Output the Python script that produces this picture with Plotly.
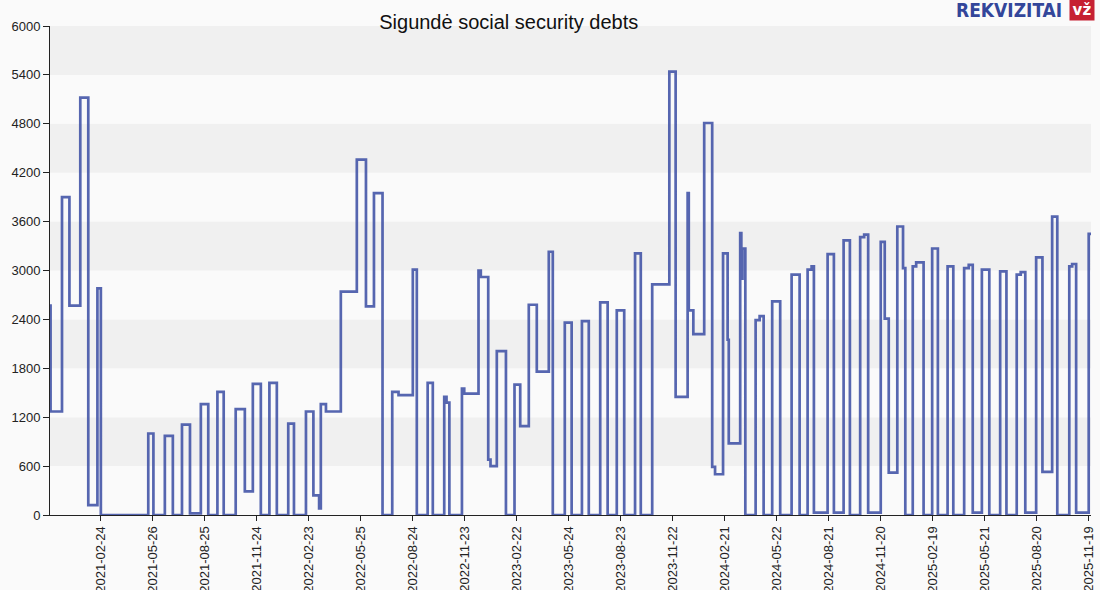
import plotly.graph_objects as go

dates = [
    "2020-11-27", "2020-11-28", "2020-12-18", "2020-12-31", "2021-01-19", "2021-02-02", "2021-02-18", "2021-02-24",
    "2021-05-18", "2021-05-27", "2021-06-16", "2021-06-30", "2021-07-16", "2021-07-30", "2021-08-18", "2021-08-31",
    "2021-09-16", "2021-09-27", "2021-10-18", "2021-11-03", "2021-11-17", "2021-12-01", "2021-12-16", "2021-12-29",
    "2022-01-18", "2022-01-28", "2022-02-18", "2022-03-03", "2022-03-13", "2022-03-16", "2022-03-25", "2022-04-20",
    "2022-05-18", "2022-06-03", "2022-06-17", "2022-07-02", "2022-07-19", "2022-07-30", "2022-08-24", "2022-08-31",
    "2022-09-19", "2022-09-28", "2022-10-18", "2022-10-22", "2022-10-27", "2022-11-18", "2022-11-22", "2022-12-17",
    "2022-12-21", "2023-01-03", "2023-01-07", "2023-01-18", "2023-02-03", "2023-02-18", "2023-02-28", "2023-03-15",
    "2023-03-29", "2023-04-19", "2023-04-26", "2023-05-17", "2023-05-29", "2023-06-16", "2023-06-28", "2023-07-18",
    "2023-07-31", "2023-08-16", "2023-08-29", "2023-09-17", "2023-09-27", "2023-10-17", "2023-11-16", "2023-11-27",
    "2023-12-18", "2023-12-20", "2023-12-28", "2024-01-16", "2024-01-30", "2024-02-04", "2024-02-18", "2024-02-26",
    "2024-02-28", "2024-03-19", "2024-03-21", "2024-03-23", "2024-03-28", "2024-04-15", "2024-04-22", "2024-04-29",
    "2024-05-14", "2024-05-28", "2024-06-17", "2024-07-01", "2024-07-15", "2024-07-22", "2024-07-26", "2024-08-19",
    "2024-08-30", "2024-09-16", "2024-09-27", "2024-10-15", "2024-10-22", "2024-10-29", "2024-11-20", "2024-11-27",
    "2024-12-04", "2024-12-19", "2024-12-29", "2025-01-02", "2025-01-15", "2025-01-21", "2025-02-03", "2025-02-18",
    "2025-02-28", "2025-03-17", "2025-03-27", "2025-04-15", "2025-04-23", "2025-04-30", "2025-05-16", "2025-05-29",
    "2025-06-17", "2025-06-28", "2025-07-16", "2025-07-23", "2025-07-31", "2025-08-19", "2025-08-30", "2025-09-16",
    "2025-09-25", "2025-10-16", "2025-10-21", "2025-10-28", "2025-11-19", "2025-11-23",
]

debts = [
    2570, 1270, 3900, 2570, 5120, 120, 2780, 0,
    1000, 0, 970, 0, 1110, 20, 1360, 0,
    1510, 0, 1300, 290, 1610, 0, 1620, 0,
    1120, 0, 1270, 240, 80, 1360, 1270, 2740,
    4360, 2560, 3950, 0, 1510, 1470, 3010, 0,
    1620, 0, 1450, 1380, 0, 1550, 1490, 3000,
    2920, 680, 600, 2010, 0, 1600, 1090, 2580,
    1760, 3230, 0, 2360, 0, 2380, 0, 2610,
    0, 2510, 0, 3210, 0, 2830, 5440, 1450,
    3950, 2510, 2220, 4810, 590, 500, 3210, 2150,
    880, 3460, 2900, 3270, 0, 2390, 2440, 0,
    2620, 0, 2950, 0, 3010, 3050, 30, 3200,
    30, 3370, 0, 3410, 3440, 30, 3350, 2410,
    520, 3540, 3030, 0, 3050, 3100, 0, 3270,
    0, 3050, 0, 3030, 3070, 30, 3010, 0,
    2990, 0, 2950, 2980, 30, 3160, 530, 3660,
    0, 3050, 3080, 30, 3450, 3440,
]

tick_dates = [
    "2021-02-24", "2021-05-26", "2021-08-25", "2021-11-24", "2022-02-23", "2022-05-25", "2022-08-24",
    "2022-11-23", "2023-02-22", "2023-05-24", "2023-08-23", "2023-11-22", "2024-02-21", "2024-05-22",
    "2024-08-21", "2024-11-20", "2025-02-19", "2025-05-21", "2025-08-20", "2025-11-19",
]

y_ticks = [0, 600, 1200, 1800, 2400, 3000, 3600, 4200, 4800, 5400, 6000]

x_range = ["2020-11-27", "2025-11-23"]

fig = go.Figure()

fig.add_trace(go.Scatter(
    x=dates, y=debts, mode="lines", line_shape="hv",
    line=dict(color="rgba(50,70,160,0.82)", width=2.7),
    hoverinfo="x+y", showlegend=False,
))

shapes = []
for i in range(len(y_ticks) - 1):
    shapes.append(dict(
        type="rect", xref="paper", yref="y", x0=0, x1=1,
        y0=y_ticks[i], y1=y_ticks[i + 1], layer="below", line=dict(width=0),
        fillcolor="#f0f0f0" if i % 2 == 1 else "#fafafa",
    ))

fig.update_layout(
    width=1100, height=590,
    margin=dict(l=50, r=9, t=26, b=75),
    paper_bgcolor="#fafafa", plot_bgcolor="#fafafa",
    font=dict(family="Liberation Sans, Arial, sans-serif", size=13, color="#222"),
    title=dict(text="Sigundė social security debts", x=0.4625, xanchor="center",
               y=0.963, yanchor="middle",
               font=dict(family="Liberation Sans, Arial, sans-serif", size=20, color="#111")),
    shapes=shapes,
    xaxis=dict(
        type="date", range=x_range, tickvals=tick_dates, ticktext=tick_dates,
        tickangle=-90, ticks="outside", ticklen=5, tickcolor="#222",
        showline=True, linecolor="#222", linewidth=1, showgrid=False, zeroline=False,
        automargin=False, tickfont=dict(size=13, color="#222"),
    ),
    yaxis=dict(
        range=[0, 6000], tickvals=y_ticks, ticks="outside", ticklen=6, tickcolor="#222",
        showline=True, linecolor="#222", linewidth=1, showgrid=False, zeroline=False,
        automargin=False, tickfont=dict(size=13, color="#222"),
    ),
    annotations=[
        dict(text="<b>REKVIZITAI</b>", xref="paper", yref="paper", x=(1064 - 50) / 1041, y=1 + (26 - 10) / 489,
             xanchor="right", yanchor="middle", showarrow=False,
             font=dict(family="DejaVu Sans Condensed, sans-serif", size=19, color="#33469a")),
        dict(text="<b>vž</b>", xref="paper", yref="paper", x=(1082 - 50) / 1041, y=1 + (26 - 10) / 489,
             xanchor="center", yanchor="middle", showarrow=False, bgcolor="#c62032",
             width=24, height=20, borderpad=0,
             font=dict(family="DejaVu Sans, sans-serif", size=15, color="white")),
    ],
)

fig.write_html("out.html", config={"displayModeBar": False},
               post_script="document.body.style.margin='0';document.body.style.overflow='hidden';")
